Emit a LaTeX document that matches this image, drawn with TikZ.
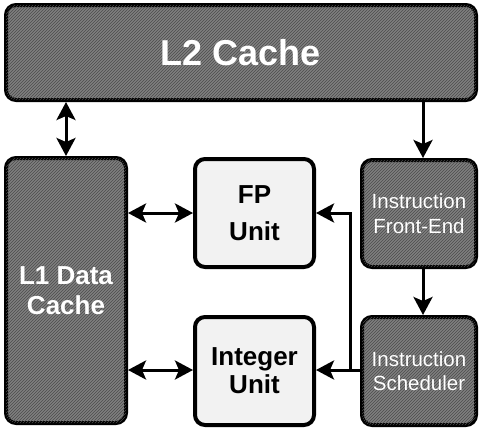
\documentclass[tikz,border=0pt]{standalone}
\usepackage{fontspec}
\setmainfont{Liberation Sans}
\usetikzlibrary{arrows.meta,patterns}
\definecolor{darkbox}{HTML}{808080}
\definecolor{lightbox}{HTML}{F2F2F2}
\tikzset{
  box/.style={draw=black, line width=4pt, rounded corners=10pt, align=center, inner sep=0pt},
  darkstyle/.style={box, fill=darkbox, text=white, postaction={pattern=north east lines, pattern color=black!70}},
  lightstyle/.style={box, fill=lightbox, text=black},
  tip/.style={},
  arr/.style={line width=3pt, -{Stealth[length=18pt,width=19pt,inset=4pt]}},
  biarr/.style={line width=3pt, {Stealth[length=18pt,width=19pt,inset=4pt]}-{Stealth[length=18pt,width=19pt,inset=4pt]}},
}
\begin{document}
\begin{tikzpicture}[x=1pt,y=-1pt]
\useasboundingbox (0,0) rectangle (479,431);
\node[darkstyle, minimum width=470pt, minimum height=95pt, font=\fontsize{36}{40}\selectfont\bfseries] (l2) at (241,52.5) {L2 Cache};
\node[darkstyle, minimum width=120pt, minimum height=265pt, font=\fontsize{26}{30}\selectfont\bfseries] (l1) at (66,290.5) {L1 Data\\Cache};
\node[lightstyle, minimum width=119pt, minimum height=108pt, font=\fontsize{26}{37}\selectfont\bfseries] (fp) at (254.5,213) {FP\\Unit};
\node[lightstyle, minimum width=119pt, minimum height=108pt, font=\fontsize{26}{28}\selectfont\bfseries] (int) at (254.5,371) {Integer\\Unit};
\node[darkstyle, minimum width=114pt, minimum height=107pt, font=\fontsize{20.5}{25}\selectfont] (fe) at (419,213.5) {Instruction\\Front-End};
\node[darkstyle, minimum width=114pt, minimum height=108pt, font=\fontsize{20.5}{24}\selectfont] (sch) at (419,371) {Instruction\\Scheduler};
\coordinate (br) at (350,370);
\coordinate (a) at (423,100);
\draw[biarr] (l1.north |- l2.south) -- (l1.north);
\draw[arr] (a) -- (a |- fe.north);
\draw[arr] (fe.south -| a) -- (a |- sch.north);
\draw[biarr] (l1.east |- fp.west) -- (fp.west);
\draw[biarr] (l1.east |- br) -- (int.west |- br);
\draw[arr] (sch.west |- br) -- (int.east |- br);
\draw[arr] (br) -- (br |- fp.east) -- (fp.east);
\end{tikzpicture}
\end{document}
